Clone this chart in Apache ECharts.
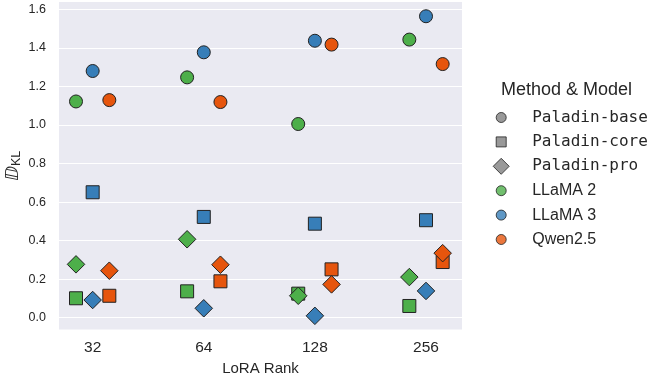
<!DOCTYPE html>
<html>
<head>
<meta charset="utf-8">
<script src="https://cdn.jsdelivr.net/npm/echarts@6/dist/echarts.min.js"></script>
<style>html,body{margin:0;padding:0;background:#fff;}#c{width:649px;height:377px;}</style>
</head>
<body>
<div id="c"></div>
<script>
// ---- data ----
const categories = ['32', '64', '128', '256'];
const models = ['LLaMA 2', 'LLaMA 3', 'Qwen2.5'];
const methods = ['Paladin-base', 'Paladin-core', 'Paladin-pro'];
const yTicks = [0.0, 0.2, 0.4, 0.6, 0.8, 1.0, 1.2, 1.4, 1.6];

const llama2Base = [1.122, 1.247, 1.005, 1.443];
const llama3Base = [1.280, 1.377, 1.437, 1.564];
const qwenBase   = [1.129, 1.119, 1.417, 1.316];

const llama2Core = [0.101, 0.137, 0.125, 0.061];
const llama3Core = [0.651, 0.523, 0.488, 0.506];
const qwenCore   = [0.114, 0.189, 0.251, 0.289];

const llama2Pro  = [0.277, 0.407, 0.114, 0.211];
const llama3Pro  = [0.092, 0.049, 0.010, 0.139];
const qwenPro    = [0.244, 0.275, 0.173, 0.335];

const values = {
  'Paladin-base': [llama2Base, llama3Base, qwenBase],
  'Paladin-core': [llama2Core, llama3Core, qwenCore],
  'Paladin-pro':  [llama2Pro,  llama3Pro,  qwenPro]
};

// ---- style ----
const modelColors = ['#4DAF4A', '#377EB8', '#E6550D'];
const dodge = [-0.15, 0, 0.15];
const symbols = { 'Paladin-base': 'circle', 'Paladin-core': 'rect', 'Paladin-pro': 'diamond' };
const sizes = { 'Paladin-base': 13, 'Paladin-core': 13, 'Paladin-pro': 17.5 };
const edge = '#222222';
const txt = '#262626';
const SANS = '"Liberation Sans", Arial, sans-serif';
const MONO = '"DejaVu Sans Mono", monospace';

const series = [];
methods.forEach(function (meth) {
  models.forEach(function (mod, j) {
    series.push({
      type: 'scatter',
      name: mod + ' / ' + meth,
      symbol: symbols[meth],
      symbolSize: sizes[meth],
      itemStyle: { color: modelColors[j], borderColor: edge, borderWidth: 1, opacity: 1 },
      data: values[meth][j].map(function (v, i) { return [i + dodge[j], v]; }),
      emphasis: { disabled: true }
    });
  });
});

// legend icons (paths padded so they render at the reference's sizes)
const iconCircle = 'path://M0,0M16,16M13,8A5,5,0,1,1,3,8A5,5,0,1,1,13,8Z';
const iconSquare = 'path://M0,0M16,16M3,3L13,3L13,13L3,13Z';
const iconDiamond = 'path://M8,0.2L15.8,8L8,15.8L0.2,8Z';
const legendIcons = { 'Paladin-base': iconCircle, 'Paladin-core': iconSquare, 'Paladin-pro': iconDiamond };

const legendNames = methods.concat(models);
legendNames.forEach(function (n) {
  series.push({ type: 'scatter', name: n, data: [] });
});
const legendData = methods.map(function (m) {
  return { name: m, icon: legendIcons[m], itemStyle: { color: '#808080', borderColor: edge, borderWidth: 1 } };
}).concat(models.map(function (m, j) {
  return { name: m, icon: iconCircle, itemStyle: { color: modelColors[j], borderColor: edge, borderWidth: 1 } };
}));

const chart = echarts.init(document.getElementById('c'), null, { renderer: 'canvas' });
chart.setOption({
  animation: false,
  backgroundColor: '#ffffff',
  title: {
    text: 'Method & Model',
    left: 501,
    top: 81,
    padding: 0,
    textStyle: { fontFamily: SANS, fontSize: 18, fontWeight: 'normal', color: txt }
  },
  legend: {
    orient: 'vertical',
    left: 487.7,
    top: 104,
    itemWidth: 16,
    itemHeight: 16,
    itemGap: 7.4,
    selectedMode: false,
    data: legendData,
    formatter: function (name) {
      return name.indexOf('Paladin') === 0 ? '{m|' + name + '}' : '{s|' + name + '}';
    },
    textStyle: {
      color: txt,
      rich: {
        m: { fontFamily: MONO, fontSize: 16, color: txt, lineHeight: 16, padding: [0, 0, 0, 18] },
        s: { fontFamily: SANS, fontSize: 16, color: txt, lineHeight: 16, padding: [0, 0, 0, 18] }
      }
    }
  },
  grid: {
    left: 59, right: 187, top: 2, bottom: 47.5,
    outerBoundsMode: 'none',
    containLabel: false,
    show: true, backgroundColor: '#EAEAF2', borderWidth: 0
  },
  xAxis: {
    type: 'value',
    min: -0.303,
    max: 3.324,
    name: 'LoRA Rank',
    nameLocation: 'middle',
    nameGap: 32,
    nameMoveOverlap: false,
    nameTextStyle: { fontFamily: SANS, fontSize: 15, color: txt },
    axisLine: { show: false },
    axisTick: { show: false, customValues: [0, 1, 2, 3] },
    splitLine: { show: false },
    axisLabel: {
      customValues: [0, 1, 2, 3],
      formatter: function (v) { return categories[Math.round(v)]; },
      fontFamily: SANS, fontSize: 15.5, color: txt, margin: 10
    }
  },
  yAxis: {
    type: 'value',
    min: -0.061,
    max: 1.638,
    name: '{d|ⅅ}{s|KL}',
    nameLocation: 'middle',
    nameGap: 36,
    nameMoveOverlap: false,
    nameTextStyle: {
      color: txt,
      rich: {
        d: { fontFamily: '"DejaVu Sans"', fontSize: 18, color: txt, lineHeight: 20 },
        s: { fontFamily: SANS, fontSize: 12.5, color: txt, lineHeight: 12, verticalAlign: 'bottom' }
      }
    },
    axisLine: { show: false },
    axisTick: { show: false, customValues: yTicks },
    splitLine: { show: true, lineStyle: { color: '#ffffff', width: 1.2 } },
    axisLabel: {
      customValues: yTicks,
      formatter: function (v) { return v.toFixed(1); },
      fontFamily: SANS, fontSize: 12.5, color: txt, margin: 13
    }
  },
  series: series
});
</script>
</body>
</html>
